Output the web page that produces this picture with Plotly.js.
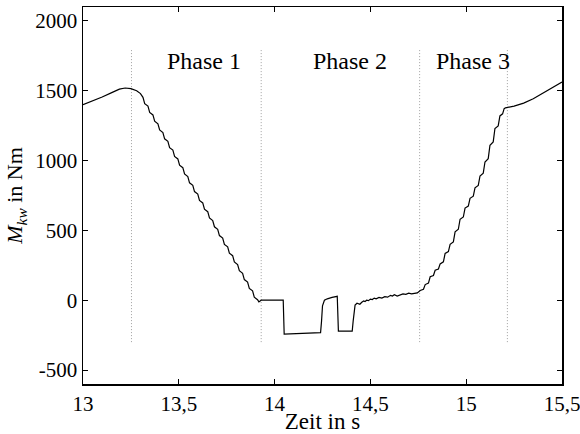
<!DOCTYPE html>
<html>
<head>
<meta charset="utf-8">
<script src="https://cdn.plot.ly/plotly-3.0.1.min.js"></script>
<style>html,body{margin:0;padding:0;background:#fff;}#chart{width:580px;height:434px;}</style>
</head>
<body>
<div id="chart"></div>
<script>
// Time (s) and torque M_kw (Nm)
var timeS = [
  13.000, 13.050, 13.100, 13.150, 13.190, 13.220, 13.250, 13.280, 13.300,
  13.313, 13.322, 13.339, 13.348, 13.365, 13.374, 13.391, 13.400, 13.417, 13.426,
  13.443, 13.452, 13.469, 13.478, 13.495, 13.504, 13.521, 13.530, 13.547, 13.556,
  13.573, 13.582, 13.599, 13.608, 13.625, 13.634, 13.651, 13.660, 13.677, 13.686,
  13.703, 13.712, 13.729, 13.738, 13.755, 13.764, 13.781, 13.790, 13.807, 13.816,
  13.833, 13.842, 13.859, 13.868, 13.885, 13.894, 13.911, 13.918, 13.930,
  14.045, 14.050, 14.240, 14.245, 14.250, 14.260, 14.275, 14.300, 14.327,
  14.333, 14.405, 14.410, 14.415, 14.420, 14.430, 14.445,
  14.455, 14.465, 14.472, 14.480, 14.490, 14.500, 14.510, 14.520, 14.530, 14.545,
  14.560, 14.575, 14.590, 14.605, 14.615, 14.625, 14.640, 14.655, 14.670, 14.685,
  14.700, 14.715, 14.730, 14.745,
  14.760, 14.777, 14.786, 14.803, 14.812, 14.829, 14.838, 14.855, 14.864, 14.881,
  14.890, 14.907, 14.916, 14.933, 14.942, 14.959, 14.968, 14.985, 14.994, 15.011,
  15.020, 15.037, 15.046, 15.063, 15.072, 15.089, 15.098, 15.115, 15.124, 15.141,
  15.150, 15.167, 15.176, 15.190, 15.198, 15.205,
  15.250, 15.300, 15.350, 15.400, 15.450, 15.500
];
var torqueNm = [
  1400, 1425, 1455, 1487, 1512, 1520, 1515, 1500, 1480,
  1453, 1408, 1390, 1345, 1327, 1282, 1264, 1219, 1201, 1156,
  1138, 1093, 1075, 1030, 1012, 967, 949, 904, 886, 841,
  823, 778, 760, 715, 697, 652, 634, 589, 571, 526,
  508, 463, 445, 400, 382, 337, 319, 274, 256, 211,
  193, 148, 130, 85, 67, 22, 4, -12, 0,
  0, -243, -232, -150, -40, 0, 10, 20, 28,
  -222, -222, -150, -60, -35, -22, -29,
  -15, -5, -10, 0, -3, 8, 5, 15, 10, 20,
  15, 25, 22, 35, 30, 40, 30, 40, 45, 42,
  50, 45, 50, 52,
  70, 78, 112, 123, 168, 177, 215, 224, 260, 275,
  335, 348, 400, 418, 490, 508, 580, 596, 660, 674,
  730, 745, 805, 822, 890, 910, 990, 1014, 1110, 1134,
  1230, 1248, 1320, 1335, 1372, 1378,
  1390, 1412, 1443, 1482, 1522, 1562
];
// Phase boundaries (dotted lines) and labels
var boundaryTimes = [13.253, 13.93, 14.757, 15.215];
var boundaryYRange = [-300, 1800];
var phaseLabels = ["Phase 1", "Phase 2", "Phase 3"];
var phaseLabelX = [13.63, 14.393, 15.033];
var phaseLabelY = 1712;
// Axis ticks
var xTickVals = [13, 13.5, 14, 14.5, 15, 15.5];
var xTickText = ["13", "13,5", "14", "14,5", "15", "15,5"];
var yTickVals = [-500, 0, 500, 1000, 1500, 2000];
var yTickText = ["-500", "0", "500", "1000", "1500", "2000"];

var font = "Liberation Serif";
var traces = [];
boundaryTimes.forEach(function (b) {
  traces.push({
    x: [b, b], y: boundaryYRange, mode: "lines", type: "scatter",
    line: {color: "#a0a0a0", width: 1, dash: "1px,2px"}, hoverinfo: "skip", showlegend: false
  });
});
traces.push({
  x: timeS, y: torqueNm, mode: "lines", type: "scatter",
  line: {color: "#000", width: 1.2}, showlegend: false
});

var annotations = phaseLabels.map(function (t, i) {
  return {x: phaseLabelX[i], y: phaseLabelY, xref: "x", yref: "y", text: t,
    showarrow: false, font: {family: font, size: 24, color: "#000"}};
});

var layout = {
  width: 580, height: 434,
  margin: {l: 83, r: 18, t: 7, b: 50},
  paper_bgcolor: "#fff", plot_bgcolor: "#fff",
  font: {family: font, color: "#000"},
  showlegend: false,
  xaxis: {
    range: [13, 15.5], tickvals: xTickVals, ticktext: xTickText,
    ticks: "inside", ticklen: 5, tickwidth: 1, tickcolor: "#000",
    showline: true, linecolor: "#000", linewidth: 1.5, mirror: "ticks",
    showgrid: false, zeroline: false, ticklabeloverflow: "allow",
    tickfont: {family: font, size: 21, color: "#000"},
    title: {text: "Zeit in s", font: {family: font, size: 23, color: "#000"}, standoff: 2}
  },
  yaxis: {
    range: [-600, 2100], tickvals: yTickVals, ticktext: yTickText,
    ticks: "inside", ticklen: 5, tickwidth: 1, tickcolor: "#000",
    showline: true, linecolor: "#000", linewidth: 1.5, mirror: "ticks",
    showgrid: false, zeroline: false,
    tickfont: {family: font, size: 21, color: "#000"},
    title: {text: "<i>M</i><sub><i>kw</i></sub> in Nm", font: {family: font, size: 22, color: "#000"}, standoff: 6}
  },
  annotations: annotations
};
Plotly.newPlot("chart", traces, layout, {staticPlot: true, displayModeBar: false});
</script>
</body>
</html>
